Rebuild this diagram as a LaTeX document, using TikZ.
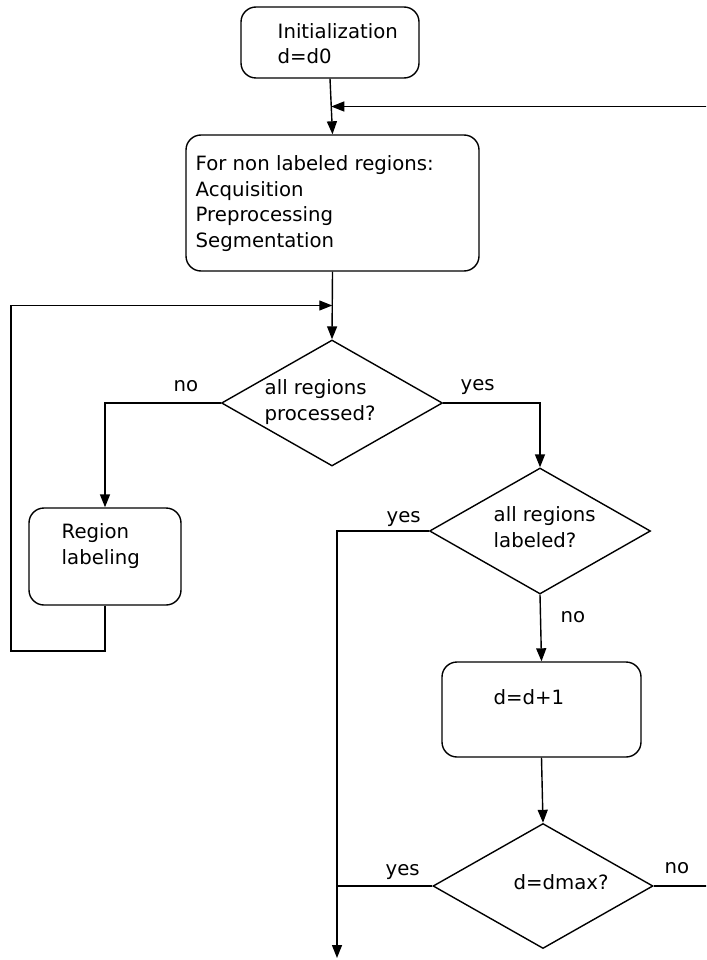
\documentclass[tikz,border=0pt]{standalone}
\usepackage{fontspec}
\setmainfont{DejaVu Sans}
\usetikzlibrary{arrows.meta, shapes.geometric, positioning, calc}

\begin{document}
\begin{tikzpicture}[x = 1pt, y = -1pt, line width = 1.4pt,
box/.style = {draw, rounded corners = 15pt, inner sep = 0pt},
dmd/.style = {draw, diamond, inner sep = 0pt, minimum width = 221pt, minimum height = 126pt},
txt/.style = {inner sep = 0pt, anchor = base west, align = left, font = \fontsize{19.7pt}{25.5pt}\selectfont},
arr/.style = {-{Triangle[length = 13pt, width = 10pt]}}]
\useasboundingbox (0,0) rectangle (706,960);
\clip (0,0) rectangle (706,960);
\node[box, minimum width = 178pt, minimum height = 71pt] (init) at (330,42.5) {};
\node[box, minimum width = 293pt, minimum height = 136pt] (big) at (332.5,203) {};
\node[dmd] (d1) at (332,403) {};
\node[box, minimum width = 152pt, minimum height = 97pt] (region) at (105,556.5) {};
\node[dmd] (d2) at (540,531) {};
\node[box, minimum width = 199pt, minimum height = 95pt] (dbox) at (541.5,709.5) {};
\node[dmd, minimum width = 220pt, minimum height = 125pt] (d3) at (543,886) {};
\coordinate (jTop) at ($(init.south)!.5!(big.north)$);
\coordinate (jLoop) at ($(big.south)!.5!(d1.north)$);
\coordinate (lpL) at (11,651);
\coordinate (out) at (337,958);
\coordinate (rgt) at (720,886);
\foreach \i/\j in {init/big, big/d1, d2/dbox, dbox/d3}{
\draw[arr] (\i.south) -- (\j.north);
}
\draw[arr] (d1.west) -| (region.north);
\draw[arr] (d1.east) -| (d2.north);
\draw[arr] (region.south) |- (lpL) |- (jLoop);
\draw[arr] (d2.west) -| (out);
\draw (d3.west) -- (d3.west -| out);
\draw[arr] (d3.east) -- (rgt) |- (jTop);
% texts (base = last line)
\node[txt] (tInit) at (277,64) {Initialization\\d=d0};
\node[txt] (tBig) at (195,247) {For non labeled regions:\\Acquisition\\Preprocessing\\Segmentation};
\node[txt] (tD1) at (264,420) {all regions\\processed?};
\node[txt] (tRegion) at (61,564) {Region\\labeling};
\node[txt] (tD2) at (493,547) {all regions\\labeled?};
\node[txt] (tDbox) at (493,704) {d=d+1};
\node[txt] (tD3) at (513,889) {d=dmax?};
\foreach \n/\x/\y/\t in {no1/173/391/no, yes1/460/390/yes, yes2/386/522/yes, no2/560/622/no, yes3/385/875/yes, no3/664/873/no}{
\node[txt] (\n) at (\x,\y) {\t};
}
\end{tikzpicture}
\end{document}
